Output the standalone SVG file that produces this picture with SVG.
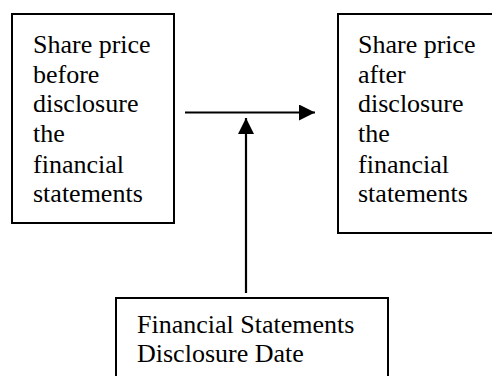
<svg xmlns="http://www.w3.org/2000/svg" width="492" height="376" viewBox="0 0 492 376">
<style>
.box{fill:#fff;stroke:#000;stroke-width:2}
.t{font-family:"Liberation Serif","Times New Roman",serif;font-size:26px;fill:#000}
.ln{stroke:#000;stroke-width:2.2;fill:none}
</style>
<defs>
<marker id="ah" markerUnits="userSpaceOnUse" markerWidth="16" markerHeight="16" viewBox="0 0 16 16" refX="16" refY="8" orient="auto">
<path d="M0,0 L16,8 L0,16 Z" fill="#000"/>
</marker>
</defs>
<rect width="492" height="376" fill="#fff"/>
<g id="before">
<rect class="box" x="12" y="14" width="162" height="209"/>
<text class="t" x="33" y="53">
<tspan x="33" y="53">Share price</tspan>
<tspan x="33" y="82.5">before</tspan>
<tspan x="33" y="112">disclosure</tspan>
<tspan x="33" y="142">the</tspan>
<tspan x="33" y="172.5">financial</tspan>
<tspan x="33" y="202">statements</tspan>
</text>
</g>
<g id="after">
<rect class="box" x="338" y="14" width="170" height="219"/>
<text class="t" x="358" y="53">
<tspan x="358" y="53">Share price</tspan>
<tspan x="358" y="82.5">after</tspan>
<tspan x="358" y="112">disclosure</tspan>
<tspan x="358" y="142">the</tspan>
<tspan x="358" y="172.5">financial</tspan>
<tspan x="358" y="202">statements</tspan>
</text>
</g>
<g id="date">
<rect class="box" x="116" y="298" width="272" height="100"/>
<text class="t" x="137" y="333">
<tspan x="137" y="333">Financial Statements</tspan>
<tspan x="137" y="362">Disclosure Date</tspan>
</text>
</g>
<g id="connectors">
<line class="ln" x1="185" y1="112.5" x2="315" y2="112.5" marker-end="url(#ah)"/>
<line class="ln" x1="246" y1="293" x2="246" y2="118" marker-end="url(#ah)"/>
</g>
</svg>
